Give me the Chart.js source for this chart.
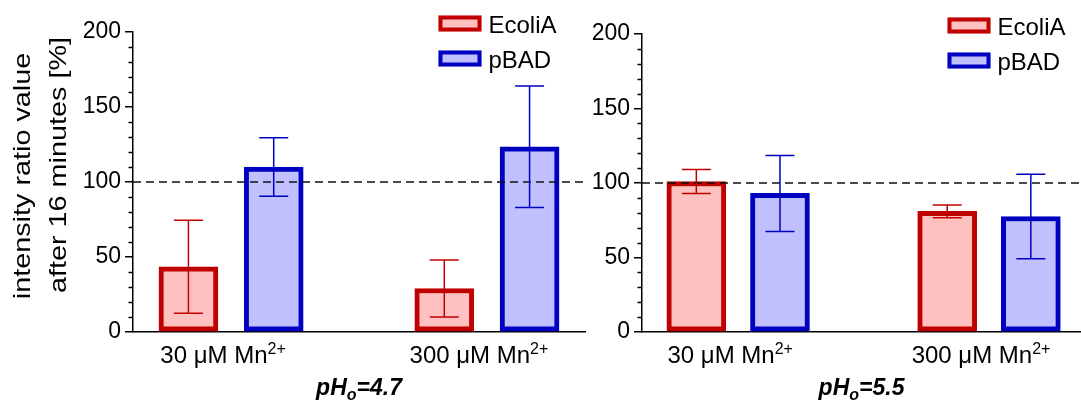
<!DOCTYPE html>
<html>
<head>
<meta charset="utf-8">
<script src="https://cdn.jsdelivr.net/npm/chart.js@4.4.1/dist/chart.umd.min.js"></script>
<style>
    html, body { margin: 0; padding: 0; background: #fff; }
    #wrap { position: relative; width: 1081px; height: 400px; }
    .panel { position: absolute; top: 0; height: 400px; }
</style>
</head>
<body>
<div id="wrap">
    <div class="panel" style="left:0;width:590px"><canvas id="left" width="590" height="400"></canvas></div>
    <div class="panel" style="left:590px;width:491px"><canvas id="right" width="491" height="400"></canvas></div>
</div>
<script>
// categories
const groups = ['30 \u03BCM Mn', '300 \u03BCM Mn'];
const groupSup = '2+';
const seriesNames = ['EcoliA', 'pBAD'];
const phValues = ['4.7', '5.5'];
const yTitle = ['intensity ratio value', 'after 16 minutes [%]'];

// values (mean and error)
const ecoliA_pH47 = [43.5, 29];
const ecoliA_pH47_err = [31, 19];
const pBAD_pH47 = [110, 123.5];
const pBAD_pH47_err = [19.5, 40.5];

const ecoliA_pH55 = [101, 81];
const ecoliA_pH55_err = [8, 4.3];
const pBAD_pH55 = [93, 77.5];
const pBAD_pH55_err = [25.5, 28.4];

// y axis
const yMin = 0;
const yMax = 200;
const yStep = 50;
const yMinorStep = 10;
const refLine = 100;

const FONT = "'Liberation Sans', Arial, sans-serif";
Chart.defaults.font.family = FONT;
Chart.defaults.color = '#000';

const red = { border: '#c00000', fill: '#ffc0c0' };
const blue = { border: '#0000c0', fill: '#c0c0ff' };

const extras = {
    id: 'extras',
    afterDatasetsDraw(chart, args, opts) {
        const ctx = chart.ctx;
        const { left, right } = chart.chartArea;
        const y = chart.scales.y;

        // dashed reference line
        ctx.save();
        ctx.strokeStyle = '#111';
        ctx.lineWidth = 1.5;
        ctx.setLineDash([8, 5]);
        ctx.beginPath();
        ctx.moveTo(left, y.getPixelForValue(refLine));
        ctx.lineTo(right, y.getPixelForValue(refLine));
        ctx.stroke();
        ctx.restore();

        // error bars
        chart.data.datasets.forEach((ds, di) => {
            const meta = chart.getDatasetMeta(di);
            ctx.save();
            ctx.strokeStyle = ds.borderColor;
            ctx.lineWidth = 1.5;
            meta.data.forEach((bar, i) => {
                const v = ds.data[i].y, e = ds.err[i];
                const y1 = y.getPixelForValue(v + e), y2 = y.getPixelForValue(v - e);
                ctx.beginPath();
                ctx.moveTo(bar.x, y1); ctx.lineTo(bar.x, y2);
                ctx.moveTo(bar.x - 14.5, y1); ctx.lineTo(bar.x + 14.5, y1);
                ctx.moveTo(bar.x - 14.5, y2); ctx.lineTo(bar.x + 14.5, y2);
                ctx.stroke();
            });
            ctx.restore();
        });
    },
    afterDraw(chart, args, opts) {
        const ctx = chart.ctx;
        const { left, right, top } = chart.chartArea;
        const x = chart.scales.x, y = chart.scales.y;

        // minor ticks
        ctx.save();
        ctx.strokeStyle = '#000';
        ctx.lineWidth = 1.5;
        ctx.beginPath();
        for (let v = yMin + yMinorStep; v < yMax; v += yMinorStep) {
            if (v % yStep === 0) continue;
            const py = Math.round(y.getPixelForValue(v)) + 0.5;
            ctx.moveTo(left - 4.5, py); ctx.lineTo(left, py);
        }
        ctx.stroke();
        ctx.restore();

        // group labels with superscript
        ctx.save();
        ctx.fillStyle = '#000';
        ctx.textBaseline = 'alphabetic';
        ctx.textAlign = 'left';
        groups.forEach((g, gi) => {
            ctx.font = `24px ${FONT}`;
            const wBase = ctx.measureText(g).width;
            ctx.font = `16px ${FONT}`;
            const wSup = ctx.measureText(groupSup).width;
            const cx = x.getPixelForValue(gi * 3 + 0.5) - 8;
            const sx = cx - (wBase + wSup) / 2;
            ctx.font = `24px ${FONT}`;
            ctx.fillText(g, sx, 363);
            ctx.font = `16px ${FONT}`;
            ctx.fillText(groupSup, sx + wBase, 353.5);
        });

        // panel title pH_o=...
        const parts = [
            { t: 'pH', f: `italic bold 23px ${FONT}`, dy: 0 },
            { t: 'o', f: `italic bold 16px ${FONT}`, dy: 5 },
            { t: '=' + opts.ph, f: `italic bold 23px ${FONT}`, dy: 0 }
        ];
        let total = 0;
        parts.forEach(p => { ctx.font = p.f; p.w = ctx.measureText(p.t).width; total += p.w; });
        let px = (left + right) / 2 - total / 2;
        parts.forEach(p => { ctx.font = p.f; ctx.fillText(p.t, px, 395 + p.dy); px += p.w; });

        // legend inside plot
        chart.data.datasets.forEach((ds, di) => {
            const cy = top - 8.5 + di * 35;
            const bx = left + 305.5;
            ctx.fillStyle = ds.backgroundColor;
            ctx.fillRect(bx, cy - 8, 43, 16);
            ctx.strokeStyle = ds.borderColor;
            ctx.lineWidth = 4;
            ctx.strokeRect(bx + 2, cy - 6, 39, 12);
            ctx.fillStyle = '#000';
            ctx.font = `24px ${FONT}`;
            ctx.fillText(ds.label, bx + 50, cy + 9);
        });

        // y axis title
        if (opts.yTitle) {
            const lines = [
                { t: yTitle[0], x: 30, y: 176 },
                { t: yTitle[1], x: 65.5, y: 165 }
            ];
            ctx.font = `24px ${FONT}`;
            ctx.textAlign = 'center';
            lines.forEach(l => {
                ctx.save();
                ctx.translate(l.x, l.y);
                ctx.rotate(-Math.PI / 2);
                ctx.scale(1.2, 1);
                ctx.fillText(l.t, 0, 0);
                ctx.restore();
            });
        }
        ctx.restore();
    }
};

function makePanel(id, ecoli, ecoliErr, pbad, pbadErr, ph, cfg) {
    const bar = {
        borderWidth: 5,
        borderSkipped: false,
        barThickness: 59,
        grouped: false
    };
    new Chart(document.getElementById(id), {
        type: 'bar',
        data: {
            datasets: [
                {
                    ...bar,
                    label: seriesNames[0],
                    data: ecoli.map((v, g) => ({ x: g * 3, y: v })),
                    err: ecoliErr,
                    backgroundColor: red.fill,
                    borderColor: red.border
                },
                {
                    ...bar,
                    label: seriesNames[1],
                    data: pbad.map((v, g) => ({ x: g * 3 + 1, y: v })),
                    err: pbadErr,
                    backgroundColor: blue.fill,
                    borderColor: blue.border
                }
            ]
        },
        options: {
            responsive: false,
            animation: false,
            layout: { padding: { top: cfg.top, right: cfg.right, left: 0, bottom: 0 } },
            scales: {
                x: {
                    type: 'linear',
                    offset: false,
                    min: -0.65,
                    max: cfg.xMax,
                    ticks: { display: false },
                    grid: { display: false },
                    border: { color: '#000', width: 1.5 },
                    afterFit: s => { s.height = 68; }
                },
                y: {
                    min: yMin,
                    max: yMax,
                    ticks: { stepSize: yStep, font: { size: 23 }, color: '#000', padding: 4 },
                    grid: { drawOnChartArea: false, drawTicks: true, tickLength: 8, color: '#000', lineWidth: 1.5 },
                    border: { color: '#000', width: 1.5 },
                    afterFit: s => { s.width = cfg.yWidth; }
                }
            },
            plugins: {
                legend: { display: false },
                tooltip: { enabled: false },
                extras: { ph: ph, yTitle: cfg.yTitle }
            }
        },
        plugins: [extras]
    });
}

makePanel('left', ecoliA_pH47, ecoliA_pH47_err, pBAD_pH47, pBAD_pH47_err, phValues[0],
    { top: 32, right: 5, xMax: 4.65, yWidth: 133, yTitle: true });
makePanel('right', ecoliA_pH55, ecoliA_pH55_err, pBAD_pH55, pBAD_pH55_err, phValues[1],
    { top: 34, right: 0, xMax: 4.6, yWidth: 52, yTitle: false });
</script>
</body>
</html>
